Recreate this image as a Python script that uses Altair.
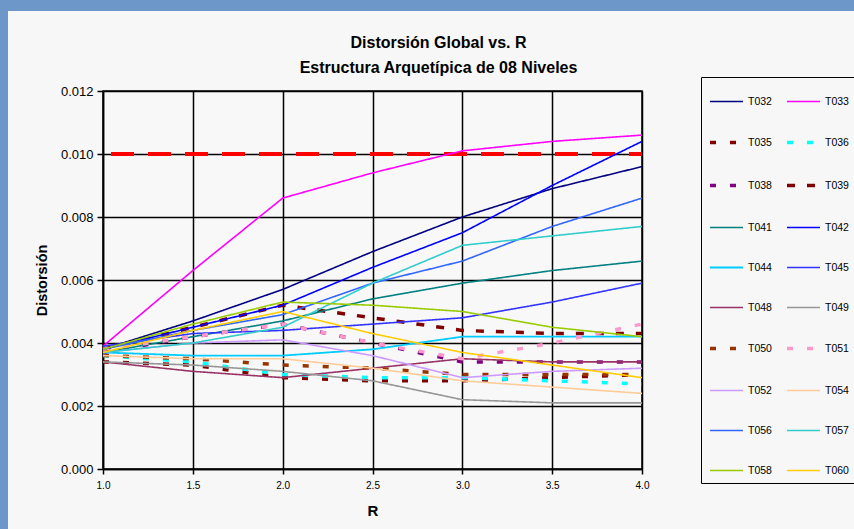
import altair as alt
import pandas as pd

# ---------------- data ----------------
R = [1.0, 1.5, 2.0, 2.5, 3.0, 3.5, 4.0]

series = ["T032", "T033", "T035", "T036", "T038", "T039", "T041", "T042", "T044", "T045",
          "T048", "T049", "T050", "T051", "T052", "T054", "T056", "T057", "T058", "T060"]

T032 = [0.0038, 0.0047, 0.0057, 0.0069, 0.0080, 0.0089, 0.0096]
T033 = [0.0039, 0.0063, 0.0086, 0.0094, 0.0101, 0.0104, 0.0106]
T035 = [0.0034, 0.0033, 0.0029, 0.0028, 0.0028, 0.0029, 0.0030]
T036 = [0.0036, 0.0034, 0.0030, 0.0029, 0.0029, 0.0028, 0.0027]
T038 = [0.0037, 0.0042, 0.0046, 0.0040, 0.0034, 0.0034, 0.0034]
T039 = [0.0038, 0.0045, 0.0052, 0.0048, 0.0044, 0.0043, 0.0043]
T041 = [0.0037, 0.0042, 0.0047, 0.0054, 0.0059, 0.0063, 0.0066]
T042 = [0.0038, 0.0045, 0.0052, 0.0064, 0.0075, 0.0090, 0.0104]
T044 = [0.0037, 0.0036, 0.0036, 0.0038, 0.0042, 0.0042, 0.0042]
T045 = [0.0039, 0.0043, 0.0044, 0.0046, 0.0048, 0.0053, 0.0059]
T048 = [0.0034, 0.0031, 0.0029, 0.0032, 0.0035, 0.0034, 0.0034]
T049 = [0.0034, 0.0033, 0.0031, 0.0028, 0.0022, 0.0021, 0.0021]
T050 = [0.0036, 0.0035, 0.0033, 0.0032, 0.0030, 0.0030, 0.0030]
T051 = [0.0038, 0.0042, 0.0046, 0.0040, 0.0035, 0.0040, 0.0046]
T052 = [0.0037, 0.0040, 0.0041, 0.0036, 0.0029, 0.0031, 0.0032]
T054 = [0.0036, 0.0035, 0.0035, 0.0032, 0.0028, 0.0026, 0.0024]
T056 = [0.0038, 0.0044, 0.0049, 0.0059, 0.0066, 0.0077, 0.0086]
T057 = [0.0037, 0.0040, 0.0045, 0.0059, 0.0071, 0.0074, 0.0077]
T058 = [0.0038, 0.0046, 0.0053, 0.0052, 0.0050, 0.0045, 0.0042]
T060 = [0.0037, 0.0044, 0.0050, 0.0043, 0.0037, 0.0033, 0.0029]

series_values = [T032, T033, T035, T036, T038, T039, T041, T042, T044, T045,
                 T048, T049, T050, T051, T052, T054, T056, T057, T058, T060]

limit_R = [1.0, 4.0]
limit_value = [0.010, 0.010]

x_ticks = [1.0, 1.5, 2.0, 2.5, 3.0, 3.5, 4.0]
y_ticks = [0.000, 0.002, 0.004, 0.006, 0.008, 0.010, 0.012]

# ---------------- styles ----------------
colors = ["#000080", "#ff00ff", "#800000", "#00ffff", "#800080", "#800000", "#008080", "#0000ff",
          "#00ccff", "#3333ff", "#993366", "#969696", "#993300", "#ff99cc", "#cc99ff", "#ffcc99",
          "#3366ff", "#33cccc", "#99cc00", "#ffcc00"]
SOLID = [1, 0]
DOT = [6, 14]
dashes = [SOLID, SOLID, DOT, DOT, DOT, [8, 12], SOLID, SOLID, SOLID, SOLID,
          SOLID, SOLID, DOT, DOT, SOLID, SOLID, SOLID, SOLID, SOLID, SOLID]
widths = [1.6, 1.6, 3.5, 3.5, 3.5, 3.5, 1.6, 1.6, 1.8, 1.6,
          1.6, 1.6, 3.5, 3.5, 1.6, 1.6, 1.6, 1.6, 1.6, 1.6]

FONT = "Liberation Sans"

rows = []
for name, vals in zip(series, series_values):
    for r, v in zip(R, vals):
        rows.append({"R": r, "Distorsion": v, "Serie": name})
df = pd.DataFrame(rows)

limit_df = pd.DataFrame({"R": limit_R, "Distorsion": limit_value})
frame_df = pd.DataFrame({"k": [0]})

x_enc = alt.X("R:Q",
              scale=alt.Scale(domain=[1, 4], nice=False, zero=False),
              axis=alt.Axis(values=x_ticks, format=".1f", title="R", labelFontSize=10,
                            labelFlush=False, labelOverlap=False, labelPadding=6, tickSize=5,
                            titleFontSize=15, titlePadding=13))
y_enc = alt.Y("Distorsion:Q",
              scale=alt.Scale(domain=[0, 0.012], nice=False),
              axis=alt.Axis(values=y_ticks, format=".3f", title="Distorsión", labelFontSize=13,
                            labelPadding=4, tickSize=6, titleFontSize=14.5, titlePadding=11))

# decorative window frame (blue strips at top and left)
frame_top = alt.Chart(frame_df).mark_rect(color="#6e97c9").encode(
    x=alt.value(-103), x2=alt.value(751), y=alt.value(-91), y2=alt.value(-80))
frame_left = alt.Chart(frame_df).mark_rect(color="#6e97c9").encode(
    x=alt.value(-103), x2=alt.value(-95), y=alt.value(-91), y2=alt.value(438))

limit = alt.Chart(limit_df).mark_line(color="#ff0000", strokeWidth=4, strokeDash=[23, 14],
                                      strokeDashOffset=29).encode(x=x_enc, y=y_enc)

lines = alt.Chart(df).mark_line().encode(
    x=x_enc,
    y=y_enc,
    color=alt.Color("Serie:N", scale=alt.Scale(domain=series, range=colors),
                    legend=alt.Legend(title=None, orient="none", legendX=598, legendY=-14,
                                      direction="horizontal",
                                      columns=2, symbolType="stroke", symbolSize=1089,
                                      labelFontSize=10.5, labelFont=FONT, labelOffset=3,
                                      columnPadding=8, rowPadding=17, padding=7,
                                      strokeColor="black")),
    strokeDash=alt.StrokeDash("Serie:N", scale=alt.Scale(domain=series, range=dashes)),
    strokeWidth=alt.StrokeWidth("Serie:N", scale=alt.Scale(type="ordinal", domain=series, range=widths)),
)

chart = alt.layer(frame_top, frame_left, limit, lines).properties(
    width=539, height=378,
    padding={"left": 103, "top": 91, "right": 212, "bottom": 60},
    autosize=alt.AutoSizeParams(type="none"),
    background="#f7f7f7",
    title=alt.TitleParams(["Distorsión Global vs. R", "Estructura Arquetípica de 08 Niveles"],
                          font=FONT, fontSize=16, fontWeight="bold", lineHeight=25,
                          anchor="middle", frame="group", dx=66, dy=76, offset=0, color="black"),
).configure_axis(
    grid=True, gridColor="black", gridWidth=1.5, domainColor="black", domainWidth=1.5,
    tickColor="black", tickWidth=1.5, labelColor="black", titleColor="black",
    labelFont=FONT, titleFont=FONT, titleFontWeight="bold",
).configure_view(stroke="black", strokeWidth=1.5, fill="#f8f8f8")

chart.save("out.html", embed_options={"renderer": "svg", "actions": False})
